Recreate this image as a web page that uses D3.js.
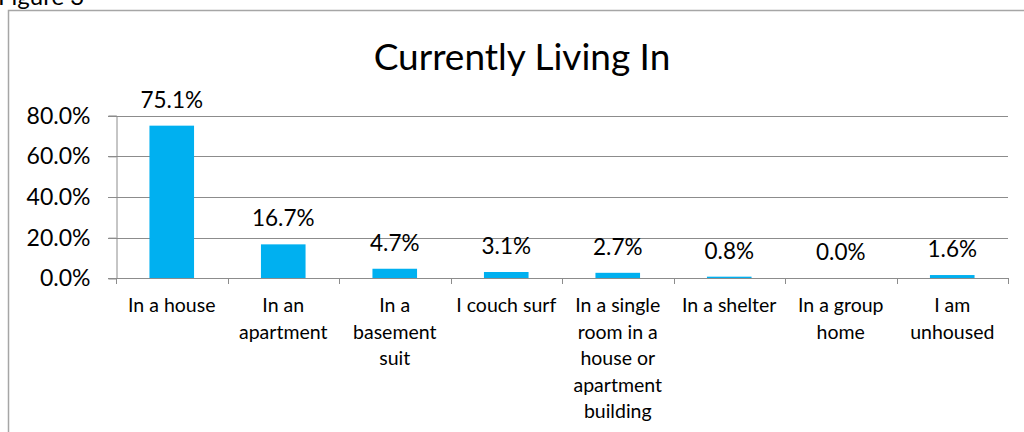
<!DOCTYPE html>
<html>
<head>
<meta charset="utf-8">
<script src="https://cdn.jsdelivr.net/npm/d3@7"></script>
<style>
  body { margin: 0; background: #fff; }
  text { font-family: Lato, "Open Sans", sans-serif; fill: #000; }
</style>
</head>
<body>
<div id="container"></div>
<script>
const categories = [
  ["In a house"],
  ["In an", "apartment"],
  ["In a", "basement", "suit"],
  ["I couch surf"],
  ["In a single", "room in a", "house or", "apartment", "building"],
  ["In a shelter"],
  ["In a group", "home"],
  ["I am", "unhoused"]
];
const values = [75.1, 16.7, 4.7, 3.1, 2.7, 0.8, 0.0, 1.6];
const yTicks = [0, 20, 40, 60, 80];

const width = 1024;
const height = 432;
const marginLeft = 116;
const marginRight = 16;
const plotTop = 115.7;
const plotBottom = 278.3;

const svg = d3.create("svg")
  .attr("width", width)
  .attr("height", height);

// caption, cut off at the top as in the source
svg.append("text")
  .attr("x", -2)
  .attr("y", 5)
  .attr("font-size", 24)
  .text("Figure 3");

// chart frame
svg.append("rect")
  .attr("x", 8.5)
  .attr("y", 10.5)
  .attr("width", 1030)
  .attr("height", 440)
  .attr("fill", "none")
  .attr("stroke", "#a6a6a6")
  .attr("stroke-width", 1.5);

svg.append("text")
  .attr("x", 522)
  .attr("y", 70)
  .attr("text-anchor", "middle")
  .attr("font-size", 37)
  .text("Currently Living In");

const x = d3.scaleBand()
  .domain(d3.range(categories.length))
  .range([marginLeft, width - marginRight])
  .paddingInner(0.6)
  .paddingOuter(0.3);

const y = d3.scaleLinear([0, 80], [plotBottom, plotTop]);

// gridlines
svg.append("g")
  .selectAll("line")
  .data(yTicks.filter(d => d > 0))
  .join("line")
  .attr("x1", marginLeft - 8)
  .attr("x2", width - marginRight)
  .attr("y1", d => Math.round(y(d)) + 0.5)
  .attr("y2", d => Math.round(y(d)) + 0.5)
  .attr("stroke", "#8c8c8c")
  .attr("stroke-width", 1);

// y axis
const gy = svg.append("g")
  .attr("transform", `translate(${marginLeft + 0.5},0)`)
  .call(d3.axisLeft(y).tickValues(yTicks).tickSize(8).tickPadding(18)
    .tickFormat(d => d.toFixed(1) + "%"));
gy.select(".domain").attr("stroke", "#8c8c8c");
gy.selectAll(".tick line").attr("stroke", "#8c8c8c");
gy.selectAll(".tick text").attr("font-size", 23).attr("font-family", "Lato, sans-serif");

// bars
svg.append("g")
  .selectAll("rect")
  .data(values)
  .join("rect")
  .attr("x", (d, i) => x(i))
  .attr("y", d => y(d))
  .attr("width", x.bandwidth())
  .attr("height", d => y(0) - y(d))
  .attr("fill", "#00b0f0");

// data labels
svg.append("g")
  .selectAll("text")
  .data(values)
  .join("text")
  .attr("x", (d, i) => x(i) + x.bandwidth() / 2)
  .attr("y", d => y(d) - 18)
  .attr("text-anchor", "middle")
  .attr("font-size", 22.5)
  .text(d => d.toFixed(1) + "%");

// x axis line and ticks
const step = (width - marginRight - marginLeft) / categories.length;
svg.append("line")
  .attr("x1", marginLeft - 8)
  .attr("x2", width - marginRight)
  .attr("y1", Math.round(y(0)) + 0.5)
  .attr("y2", Math.round(y(0)) + 0.5)
  .attr("stroke", "#8c8c8c");
svg.append("g")
  .selectAll("line")
  .data(d3.range(categories.length + 1))
  .join("line")
  .attr("x1", i => Math.round(marginLeft + i * step) + 0.5)
  .attr("x2", i => Math.round(marginLeft + i * step) + 0.5)
  .attr("y1", Math.round(y(0)))
  .attr("y2", Math.round(y(0)) + 6)
  .attr("stroke", "#8c8c8c");

// category labels
const labels = svg.append("g")
  .selectAll("text")
  .data(categories)
  .join("text")
  .attr("text-anchor", "middle")
  .attr("font-size", 19.5);
labels.selectAll("tspan")
  .data((d, i) => d.map(s => ({s, i})))
  .join("tspan")
  .attr("x", d => x(d.i) + x.bandwidth() / 2)
  .attr("y", (d, j) => 312 + j * 26.5)
  .text(d => d.s);

d3.select("#container").append(() => svg.node());
</script>
</body>
</html>
